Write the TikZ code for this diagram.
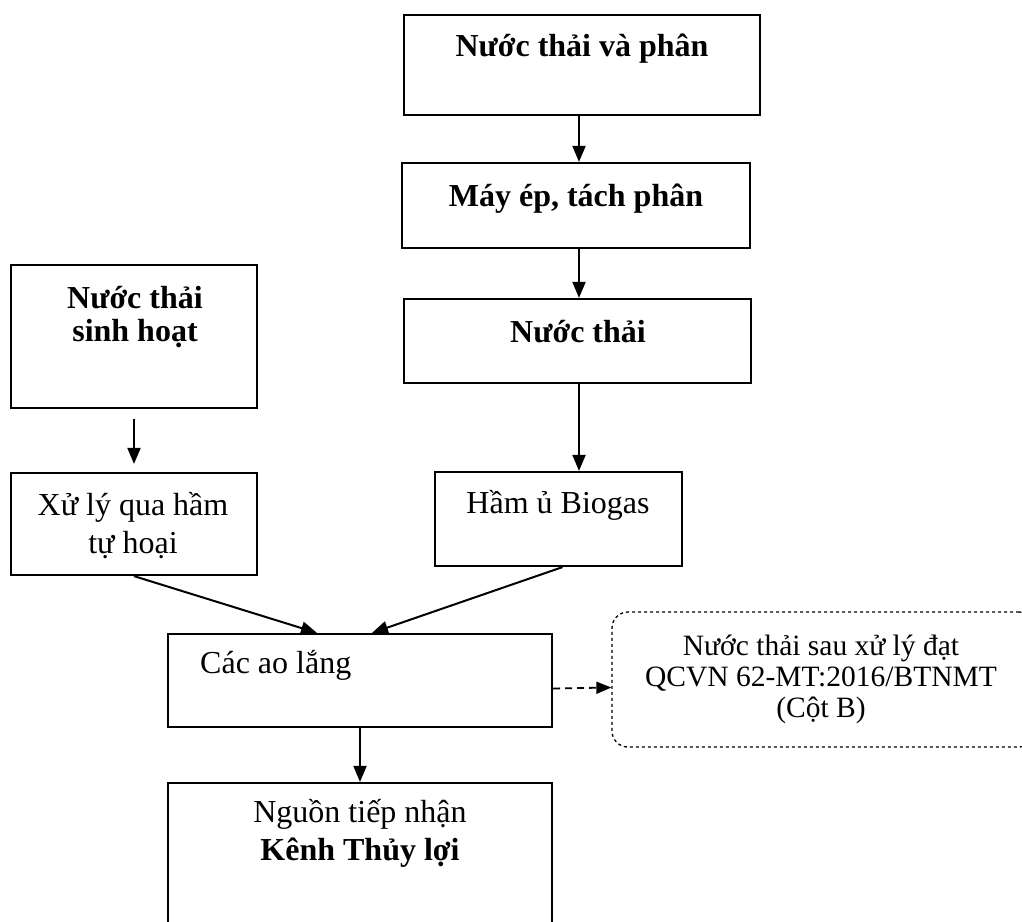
\documentclass[tikz,border=0pt]{standalone}
\usepackage{fontspec}
\setmainfont{Liberation Serif}
\usetikzlibrary{arrows.meta}
\begin{document}
\begin{tikzpicture}[x=1pt,y=-1pt,
  box/.style={draw, line width=2.2pt, rectangle, inner sep=0pt},
  dbox/.style={draw, line width=1.3pt, rectangle, rounded corners=16pt, dash pattern=on 3pt off 3pt, inner sep=0pt},
  txt/.style={inner sep=0pt, anchor=base, font=\fontsize{32}{38}\selectfont},
  stxt/.style={inner sep=0pt, anchor=base, font=\fontsize{29.5}{31}\selectfont},
  arr/.style={line width=2pt, -{Triangle[length=16pt,width=13pt]}},
  darr/.style={line width=1.8pt, dash pattern=on 7pt off 5pt, -{Triangle[length=15pt,width=12pt]}}]
\clip (0,0) rectangle (1022,921);
\useasboundingbox (0,0) rectangle (1022,921);
\fill[white] (0,0) rectangle (1022,921);

% boxes
\node[box, minimum width=356pt, minimum height=100pt] (b1) at (582,65) {};
\node[box, minimum width=348pt, minimum height=85pt] (b2) at (576,205.5) {};
\node[box, minimum width=347pt, minimum height=84pt] (b4) at (577.5,341) {};
\node[box, minimum width=246pt, minimum height=143pt] (b3) at (134,336.5) {};
\node[box, minimum width=246pt, minimum height=102pt] (b5) at (134,524) {};
\node[box, minimum width=247pt, minimum height=94pt] (b6) at (558.5,519) {};
\node[box, minimum width=384pt, minimum height=93pt] (ao) at (360,680.5) {};
\node[dbox, minimum width=423pt, minimum height=135pt] (db) at (823.5,679.5) {};
\node[box, minimum width=384pt, minimum height=157pt] (b9) at (360,861.5) {};

% texts
\node[txt] (t1) at (582,56) {\bfseries Nước thải và phân};
\node[txt] (t2) at (576,206) {\bfseries Máy ép, tách phân};
\node[txt] (t4) at (578,342) {\bfseries Nước thải};
\node[txt] (t3a) at (135,308) {\bfseries Nước thải};
\node[txt] (t3b) at (135,341) {\bfseries sinh hoạt};
\node[txt] (t5a) at (133,515) {Xử lý qua hầm};
\node[txt] (t5b) at (133,553) {tự hoại};
\node[txt] (t6) at (558,513) {Hầm ủ Biogas};
\node[txt, anchor=base west] (tao) at (200,673) {Các ao lắng};
\node[stxt] (tda) at (821,655) {Nước thải sau xử lý đạt};
\node[stxt] (tdb) at (821,686) {QCVN 62-MT:2016/BTNMT};
\node[stxt] (tdc) at (821,717) {(Cột B)};
\node[txt] (t9a) at (360,822) {Nguồn tiếp nhận};
\node[txt] (t9b) at (360,860) {\bfseries Kênh Thủy lợi};

% connectors
\draw[arr] ([xshift=-3pt]b1.south) -- ([xshift=3pt]b2.north);
\draw[arr] ([xshift=3pt]b2.south) -- ([xshift=1.5pt]b4.north);
\draw[arr] ([xshift=1.5pt]b4.south) -- ([xshift=20.5pt]b6.north);
\draw[arr, shorten <=10pt, shorten >=8pt] (b3.south) -- (b5.north);
\draw[arr] (b5.south) -- ([xshift=-43pt]ao.north);
\draw[arr] ([xshift=4pt]b6.south) -- ([xshift=12pt]ao.north);
\draw[darr] ([yshift=-8pt]ao.east) -- ([yshift=-8pt]db.west);
\draw[arr] (ao.south) -- (b9.north);
\end{tikzpicture}
\end{document}
